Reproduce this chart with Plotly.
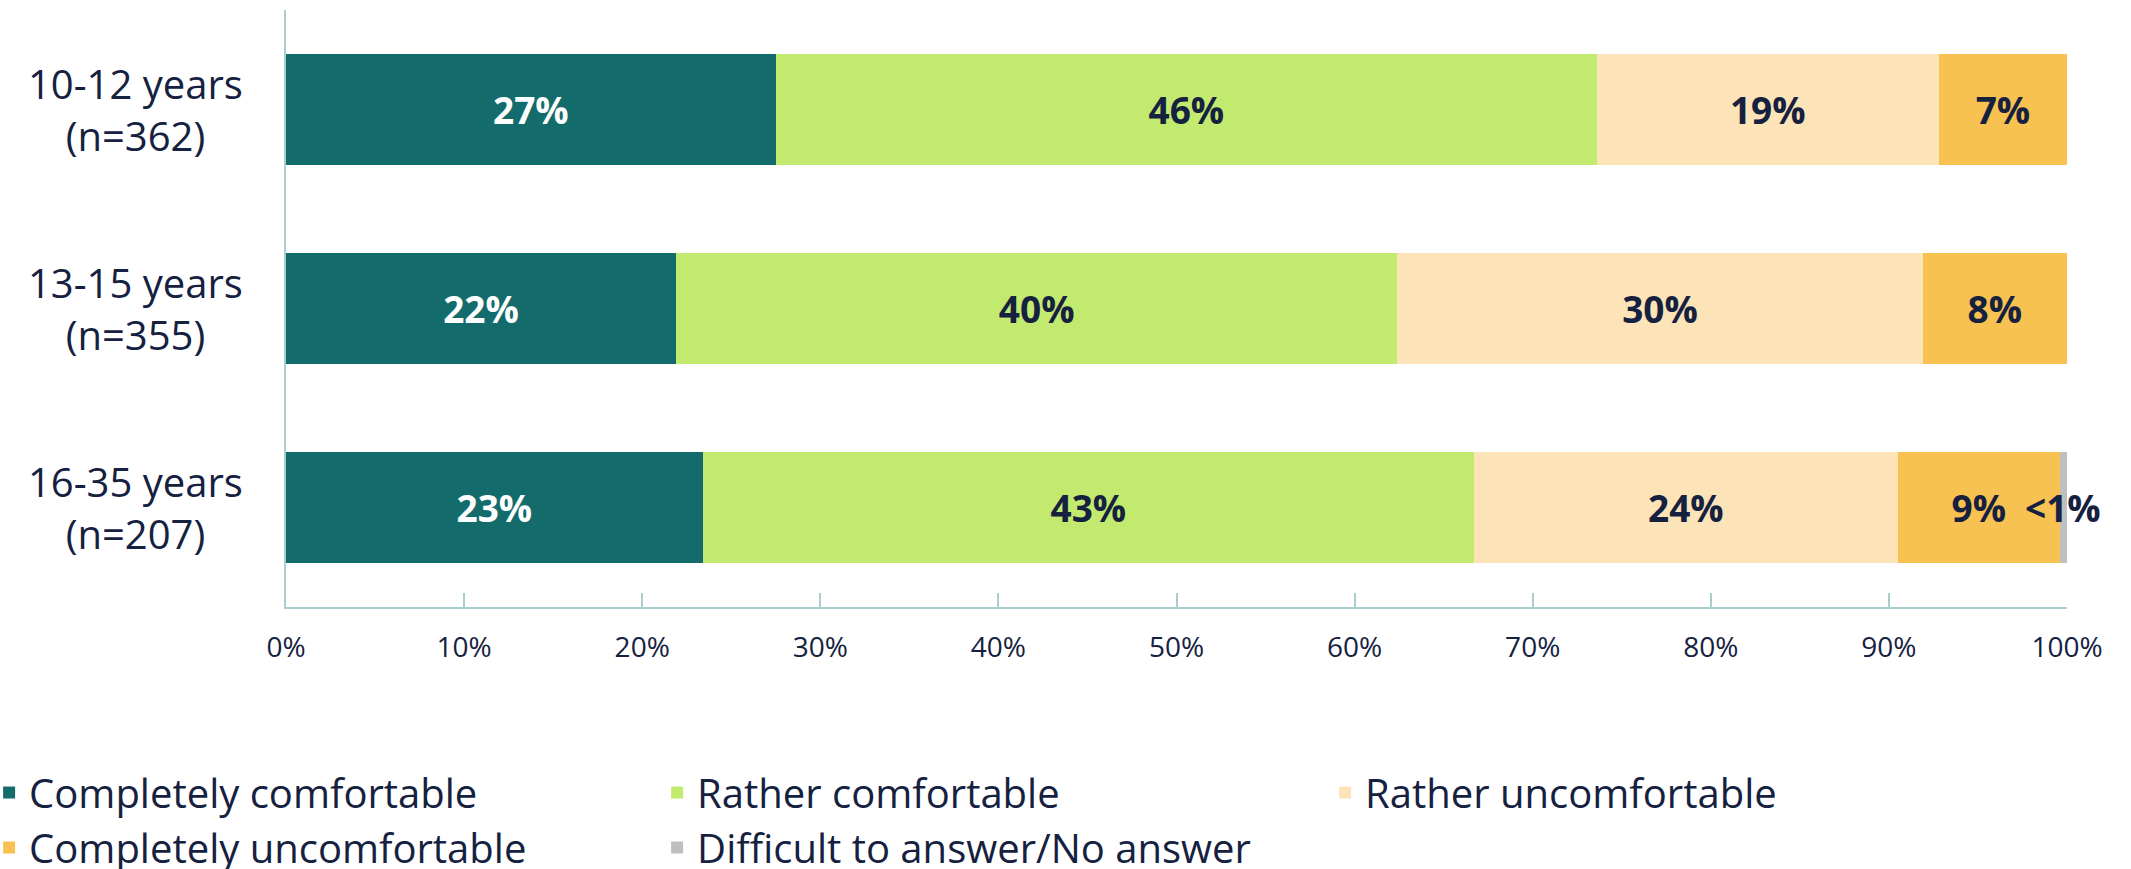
import plotly.graph_objects as go

categories = ["10-12 years<br>(n=362)", "13-15 years<br>(n=355)", "16-35 years<br>(n=207)"]
series_names = ["Completely comfortable", "Rather comfortable", "Rather uncomfortable",
                "Completely uncomfortable", "Difficult to answer/No answer"]
completely_comfortable = [27.5, 21.9, 23.4]
rather_comfortable = [46.1, 40.5, 43.3]
rather_uncomfortable = [19.2, 29.5, 23.8]
completely_uncomfortable = [7.2, 8.1, 9.1]
difficult_no_answer = [0.0, 0.0, 0.4]
labels_cc = ["27%", "22%", "23%"]
labels_rc = ["46%", "40%", "43%"]
labels_ru = ["19%", "30%", "24%"]
labels_cu = ["7%", "8%", "9%"]
labels_dn = ["", "", "<1%"]
x_ticks = [0, 10, 20, 30, 40, 50, 60, 70, 80, 90, 100]
x_tick_labels = ["0%", "10%", "20%", "30%", "40%", "50%", "60%", "70%", "80%", "90%", "100%"]

colors = ["#136B6B", "#C2EA6F", "#FCE4B8", "#F8C252", "#BFBFBF"]
text_colors = ["#FFFFFF", "#15213F", "#15213F", "#15213F", "#15213F"]
NAVY = "#15213F"
AXIS = "#A8CECE"
FONT = "Open Sans"

series = [completely_comfortable, rather_comfortable, rather_uncomfortable,
          completely_uncomfortable, difficult_no_answer]
labels = [labels_cc, labels_rc, labels_ru, labels_cu, labels_dn]

fig = go.Figure()
for i, (name, vals, lab) in enumerate(zip(series_names, series, labels)):
    inside = i < 4
    fig.add_trace(go.Bar(
        y=categories, x=vals, name=name, orientation="h",
        marker=dict(color=colors[i], line=dict(width=0)),
        text=lab if inside else None,
        textposition="inside" if inside else "none",
        insidetextanchor="middle", textangle=0,
        textfont=dict(family=FONT, size=37, color=text_colors[i], weight="bold"),
        hoverinfo="skip",
    ))

# "<1%" label placed over the thin last segment
for ci, cat in enumerate(categories):
    if labels_dn[ci]:
        total = sum(s[ci] for s in series)
        fig.add_annotation(x=total - difficult_no_answer[ci] / 2, y=cat, xref="x", yref="y",
                           text=labels_dn[ci], showarrow=False, xanchor="center",
                           font=dict(family=FONT, size=37, color=NAVY, weight="bold"))

# category labels, centered
for cat in categories:
    fig.add_annotation(x=-151 / 1781, y=cat, xref="paper", yref="y", text=cat,
                       showarrow=False, xanchor="center", yanchor="middle", align="center",
                       font=dict(family=FONT, size=40, color=NAVY))

fig.update_layout(
    width=2131, height=869,
    barmode="stack", bargap=0.442,
    plot_bgcolor="white", paper_bgcolor="white",
    margin=dict(l=286, r=64, t=10, b=262, autoexpand=False),
    font=dict(family=FONT, color=NAVY),
    showlegend=True,
    legend=dict(orientation="h", xref="paper", yref="paper", x=-0.1667, y=-0.2563,
                xanchor="left", yanchor="top", traceorder="normal",
                entrywidth=623, entrywidthmode="pixels",
                font=dict(family=FONT, size=40, color=NAVY),
                itemwidth=30, tracegroupgap=0),
)
fig.update_xaxes(range=[0, 100], tickvals=x_ticks, ticktext=x_tick_labels, showgrid=False,
                 zeroline=False, showline=True, linecolor=AXIS, linewidth=1.5,
                 ticks="inside", ticklen=14, tickwidth=1.5, tickcolor=AXIS,
                 tickfont=dict(family=FONT, size=28, color=NAVY), ticklabelstandoff=15)
fig.update_yaxes(autorange="reversed", showticklabels=False, showgrid=False, zeroline=False,
                 showline=True, linecolor=AXIS, linewidth=1.5, ticks="")

fig.write_html("out.html", config={"displayModeBar": False},
               post_script="document.body.style.margin='0';")
